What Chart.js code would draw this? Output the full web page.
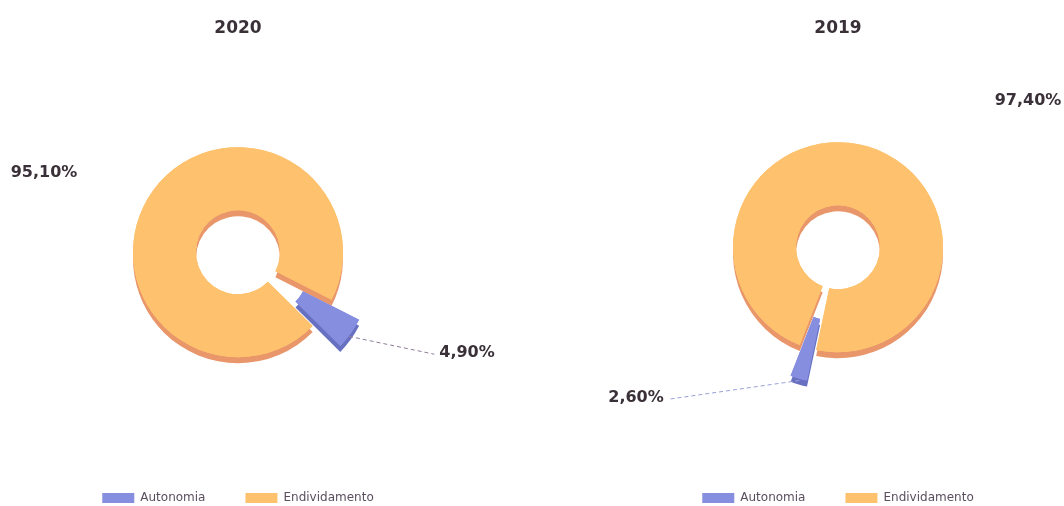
<!DOCTYPE html>
<html>
<head>
<meta charset="utf-8">
<script src="https://cdn.jsdelivr.net/npm/chart.js@4/dist/chart.umd.min.js"></script>
<style>
    html, body { margin: 0; padding: 0; background: #fff; overflow: hidden; width: 1064px; height: 506px; }
    .box { position: absolute; top: 0; width: 532px; height: 514px; }
    #boxLeft { left: 0; }
    #boxRight { left: 532px; }
</style>
</head>
<body>
<div class="box" id="boxLeft"><canvas id="chart2020" width="532" height="514"></canvas></div>
<div class="box" id="boxRight"><canvas id="chart2019" width="532" height="514"></canvas></div>
<script>
// dados
var categorias = ['Autonomia', 'Endividamento'];
var anos = ['2020', '2019'];
var valores2020 = [4.9, 95.1];
var valores2019 = [2.6, 97.4];

var cores = ['#868ee0', '#fec26f'];
var coresLado = ['#6870c2', '#e8966a'];

function fmtPct(v) {
    return v.toFixed(2).replace('.', ',') + '%';
}

// fatia destacada: desloca o arco para fora, sem estreitar
var destaquePlugin = {
    id: 'destaque',
    afterDatasetUpdate: function (chart, args, opts) {
        args.meta.data.forEach(function (arc, i) {
            var d = opts.dist[i] || 0;
            if (!d) return;
            var mid = (arc.startAngle + arc.endAngle) / 2;
            arc.x += Math.cos(mid) * d;
            arc.y += Math.sin(mid) * d;
        });
    }
};

// lateral "3D" de cada fatia
var sombraPlugin = {
    id: 'sombra3d',
    beforeDatasetDraw: function (chart, args) {
        var ctx = chart.ctx;
        args.meta.data.forEach(function (arc, i) {
            ctx.save();
            ctx.shadowColor = coresLado[i];
            ctx.shadowOffsetY = 6;
            ctx.shadowBlur = 0;
            arc.draw(ctx);
            ctx.restore();
        });
    }
};

// rotulos de percentagem com linha guia
var rotulosPlugin = {
    id: 'rotulos',
    afterDatasetsDraw: function (chart, args, opts) {
        var ctx = chart.ctx;
        var meta = chart.getDatasetMeta(0);
        var valores = chart.data.datasets[0].data;
        var cx = (chart.chartArea.left + chart.chartArea.right) / 2;
        var cy = (chart.chartArea.top + chart.chartArea.bottom) / 2;
        ctx.save();
        ctx.font = 'bold 16px "DejaVu Sans"';
        ctx.textAlign = 'center';
        ctx.textBaseline = 'middle';
        meta.data.forEach(function (arc, i) {
            var pos = opts.pos[i];
            var lx = cx + pos[0];
            var ly = cy + pos[1];
            var txt = fmtPct(valores[i]);
            if (opts.guia[i]) {
                var mid = (arc.startAngle + arc.endAngle) / 2;
                var r = arc.outerRadius - 2;
                var sx = arc.x + Math.cos(mid) * r;
                var sy = arc.y + Math.sin(mid) * r + 4;
                var w = ctx.measureText(txt).width / 2 + 5;
                var ex = lx + (sx < lx ? -w : w);
                ctx.strokeStyle = opts.corGuia;
                ctx.lineWidth = 1;
                ctx.setLineDash([4, 3]);
                ctx.beginPath();
                ctx.moveTo(sx, sy);
                ctx.lineTo(ex, ly + 1);
                ctx.stroke();
                ctx.setLineDash([]);
            }
            ctx.fillStyle = '#3a3038';
            ctx.fillText(txt, lx, ly);
        });
        ctx.restore();
    }
};

function criarGrafico(id, ano, valores, cfg) {
    return new Chart(document.getElementById(id), {
        type: 'doughnut',
        data: {
            labels: categorias,
            datasets: [{
                data: valores,
                backgroundColor: cores,
                borderWidth: 0
            }]
        },
        options: {
            responsive: false,
            animation: false,
            rotation: cfg.rotacao,
            cutout: '40%',
            radius: 105,
            layout: { padding: cfg.padding },
            plugins: {
                title: {
                    display: true,
                    text: ano,
                    color: '#3a3038',
                    font: { family: '"DejaVu Sans"', size: 17, weight: 'bold' },
                    padding: { top: 18, bottom: cfg.tituloBaixo }
                },
                legend: {
                    position: 'bottom',
                    labels: {
                        boxWidth: 32,
                        boxHeight: 10,
                        padding: 40,
                        color: '#5a4e5e',
                        font: { family: '"DejaVu Sans"', size: 12 }
                    }
                },
                tooltip: { enabled: false },
                destaque: { dist: [cfg.destaque, 0] },
                rotulos: { pos: cfg.rotulos, guia: [true, false], corGuia: cfg.corGuia }
            }
        },
        plugins: [destaquePlugin, sombraPlugin, rotulosPlugin]
    });
}

criarGrafico('chart2020', anos[0], valores2020, {
    rotacao: 117,
    destaque: 34,
    padding: { left: 0, right: 56, top: 0, bottom: 0 },
    tituloBaixo: 14,
    rotulos: [[229, 101], [-194, -79]],
    corGuia: '#8e7d99'
});

criarGrafico('chart2019', anos[1], valores2019, {
    rotacao: 192,
    destaque: 32,
    padding: { left: 80, right: 0, top: 0, bottom: 0 },
    tituloBaixo: 4,
    rotulos: [[-202, 151], [190, -146]],
    corGuia: '#9a9fd8'
});
</script>
</body>
</html>
